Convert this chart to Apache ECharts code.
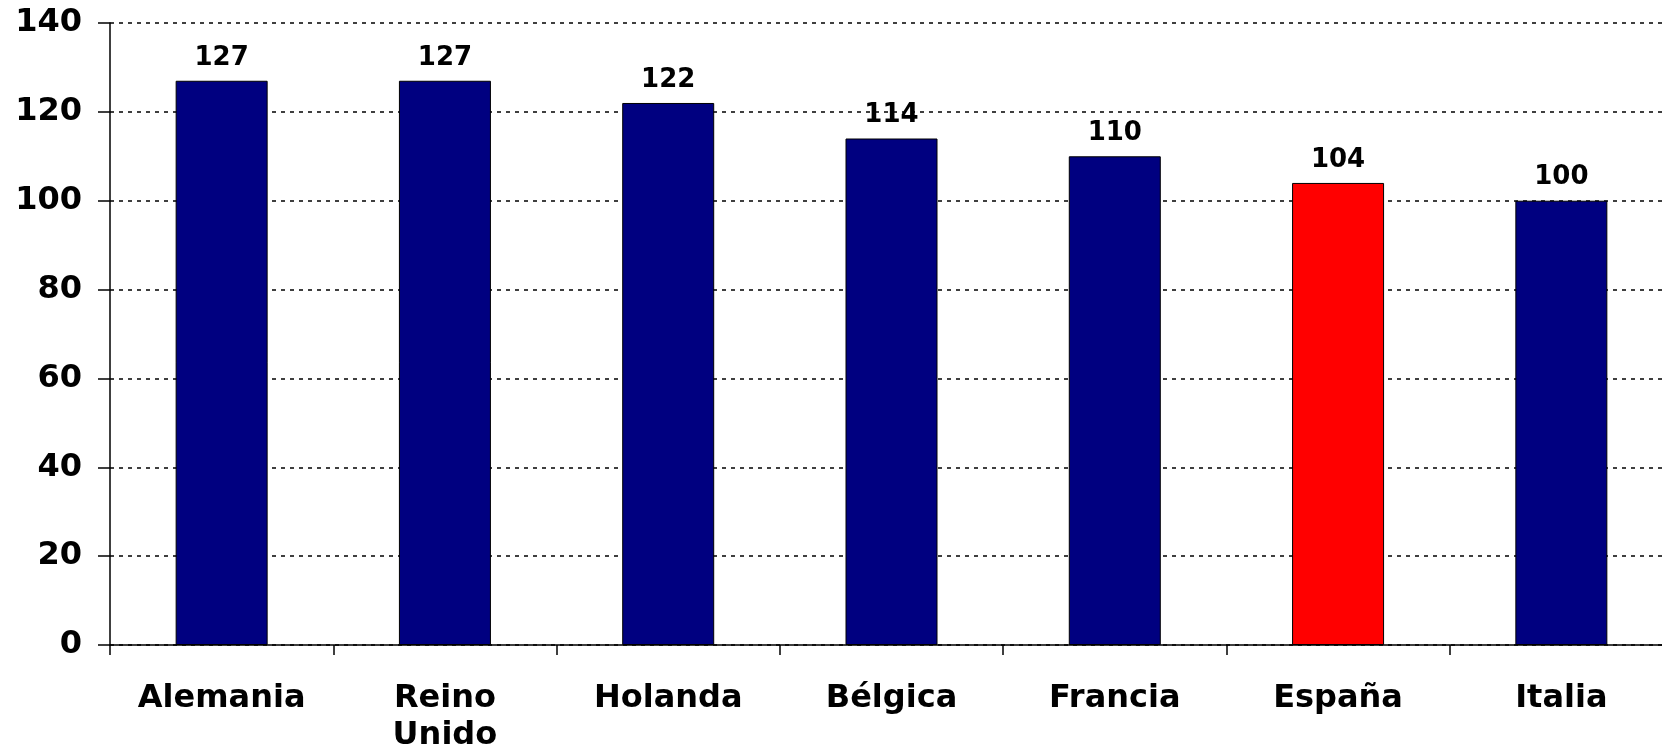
<!DOCTYPE html>
<html>
<head>
<meta charset="utf-8">
<script src="https://cdn.jsdelivr.net/npm/echarts@6/dist/echarts.min.js"></script>
<style>
  html, body { margin: 0; padding: 0; background: #ffffff; }
  #chart { width: 1662px; height: 749px; }
</style>
</head>
<body>
<div id="chart"></div>
<script>
// Countries and their index values
const countries = ['Alemania', 'Reino\nUnido', 'Holanda', 'Bélgica', 'Francia', 'España', 'Italia'];
const values = [127, 127, 122, 114, 110, 104, 100];
const highlighted = 'España';

const navy = '#000080';
const red = '#FF0000';
const font = 'DejaVu Sans';

const chart = echarts.init(document.getElementById('chart'), null, { renderer: 'canvas' });

chart.setOption({
  animation: false,
  backgroundColor: '#ffffff',
  // the plot area runs slightly past the right edge of the page
  grid: { left: 110, width: 1563, top: 23, bottom: 104, containLabel: false, outerBoundsMode: 'none' },
  xAxis: {
    type: 'category',
    data: countries,
    axisLine: { lineStyle: { color: '#000', width: 1.5 } },
    axisTick: { show: true, length: 10, alignWithLabel: false, lineStyle: { color: '#000', width: 1.5 } },
    axisLabel: {
      color: '#000', fontFamily: font, fontWeight: 'bold', fontSize: 32,
      margin: 35, lineHeight: 37, interval: 0
    }
  },
  yAxis: {
    type: 'value',
    min: 0, max: 140, interval: 20,
    axisLine: { show: true, lineStyle: { color: '#000', width: 1.5 } },
    axisTick: { show: true, length: 12, lineStyle: { color: '#000', width: 1.5 } },
    axisLabel: { color: '#000', fontFamily: font, fontWeight: 'bold', fontSize: 32, margin: 28 },
    splitLine: { show: true, lineStyle: { color: '#000', width: 1.5, type: [4, 5] } }
  },
  series: [{
    type: 'bar',
    barWidth: 92,
    data: values.map((v, i) => ({
      value: v,
      itemStyle: { color: countries[i] === highlighted ? red : navy }
    })),
    itemStyle: { borderColor: '#000', borderWidth: 1 },
    label: {
      show: true, position: 'top', distance: 10,
      color: '#000', fontFamily: font, fontWeight: 'bold', fontSize: 26
    }
  }]
});
</script>
</body>
</html>
